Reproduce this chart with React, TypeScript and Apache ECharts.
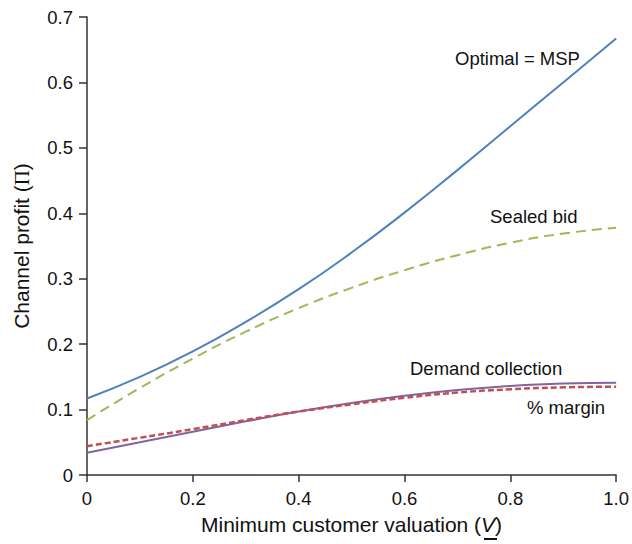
import React, { useEffect, useRef } from "react";
import * as echarts from "echarts";

const xValues = [0, 0.1, 0.2, 0.3, 0.4, 0.5, 0.6, 0.7, 0.8, 0.9, 1.0];
const optimalMsp = [0.117, 0.150, 0.189, 0.234, 0.284, 0.340, 0.401, 0.466, 0.533, 0.600, 0.667];
const sealedBid = [0.084, 0.133, 0.178, 0.219, 0.255, 0.286, 0.313, 0.336, 0.355, 0.369, 0.378];
const demandCollection = [0.034, 0.050, 0.066, 0.082, 0.097, 0.110, 0.121, 0.130, 0.136, 0.140, 0.141];
const percentMargin = [0.044, 0.057, 0.070, 0.084, 0.097, 0.108, 0.118, 0.126, 0.131, 0.134, 0.135];

const FONT = "Liberation Sans, Arial, sans-serif";
const SERIF = "Liberation Serif, Times New Roman, serif";

function pairs(ys: number[]) {
  return xValues.map((x, i) => [x, ys[i]]);
}

export default function App() {
  const ref = useRef<HTMLDivElement>(null);
  useEffect(() => {
    if (!ref.current) return;
    const chart = echarts.init(ref.current, undefined, { renderer: "svg" });
    const axisColor = "#333333";
    const lbl = (v: number) => (v === 0 ? "0" : v.toFixed(1));
    chart.setOption({
      animation: false,
      backgroundColor: "#ffffff",
      grid: { left: 87, right: 12, top: 17, bottom: 69, containLabel: false },
      xAxis: {
        type: "value",
        min: 0,
        max: 1,
        interval: 0.2,
        name: "Minimum customer valuation ({v|V})",
        nameLocation: "middle",
        nameGap: 39,
        nameTextStyle: {
          fontFamily: FONT,
          fontSize: 21,
          color: "#111",
          rich: { v: { fontFamily: FONT, fontSize: 21, fontStyle: "italic", color: "#111" } },
        },
        axisLine: { show: true, lineStyle: { color: axisColor, width: 1.5 } },
        axisTick: { show: true, length: 7, lineStyle: { color: axisColor, width: 1.5 } },
        axisLabel: { fontFamily: FONT, fontSize: 18.5, color: "#111", margin: 14, formatter: lbl },
        splitLine: { show: false },
      },
      yAxis: {
        type: "value",
        min: 0,
        max: 0.7,
        interval: 0.1,
        name: "Channel profit ({p|Π})",
        nameLocation: "middle",
        nameGap: 55,
        nameTextStyle: {
          fontFamily: FONT,
          fontSize: 21,
          color: "#111",
          rich: { p: { fontFamily: SERIF, fontSize: 21, color: "#111" } },
        },
        axisLine: { show: true, lineStyle: { color: axisColor, width: 1.5 } },
        axisTick: { show: true, length: 8, lineStyle: { color: axisColor, width: 1.5 } },
        axisLabel: { fontFamily: FONT, fontSize: 18.5, color: "#111", margin: 14, formatter: lbl },
        splitLine: { show: false },
      },
      series: [
        {
          name: "Optimal = MSP",
          type: "line",
          data: pairs(optimalMsp),
          smooth: 0.5,
          showSymbol: false,
          lineStyle: { color: "#4F81BD", width: 2 },
        },
        {
          name: "Sealed bid",
          type: "line",
          data: pairs(sealedBid),
          smooth: 0.5,
          showSymbol: false,
          lineStyle: { color: "#9BBB59", width: 2, type: [10, 6] },
        },
        {
          name: "Demand collection",
          type: "line",
          data: pairs(demandCollection),
          smooth: 0.5,
          showSymbol: false,
          lineStyle: { color: "#8064A2", width: 2 },
        },
        {
          name: "% margin",
          type: "line",
          data: pairs(percentMargin),
          smooth: 0.5,
          showSymbol: false,
          lineStyle: { color: "#C0504D", width: 2.5, type: [6, 3] },
        },
      ],
      graphic: [
        { type: "text", left: 455, top: 49, style: { text: "Optimal = MSP", fontFamily: FONT, fontSize: 18.5, fill: "#111" } },
        { type: "text", left: 490, top: 207, style: { text: "Sealed bid", fontFamily: FONT, fontSize: 18.5, fill: "#111" } },
        { type: "text", left: 410, top: 359, style: { text: "Demand collection", fontFamily: FONT, fontSize: 18.5, fill: "#111" } },
        { type: "text", left: 527, top: 398, style: { text: "% margin", fontFamily: FONT, fontSize: 18.5, fill: "#111" } },
        { type: "line", shape: { x1: 484, y1: 539, x2: 497, y2: 539 }, style: { stroke: "#111", lineWidth: 2 } },
      ],
    });
    return () => chart.dispose();
  }, []);
  return (
    <div
      ref={ref}
      style={{ position: "fixed", left: 0, top: 0, width: 632, height: 544 }}
    />
  );
}
